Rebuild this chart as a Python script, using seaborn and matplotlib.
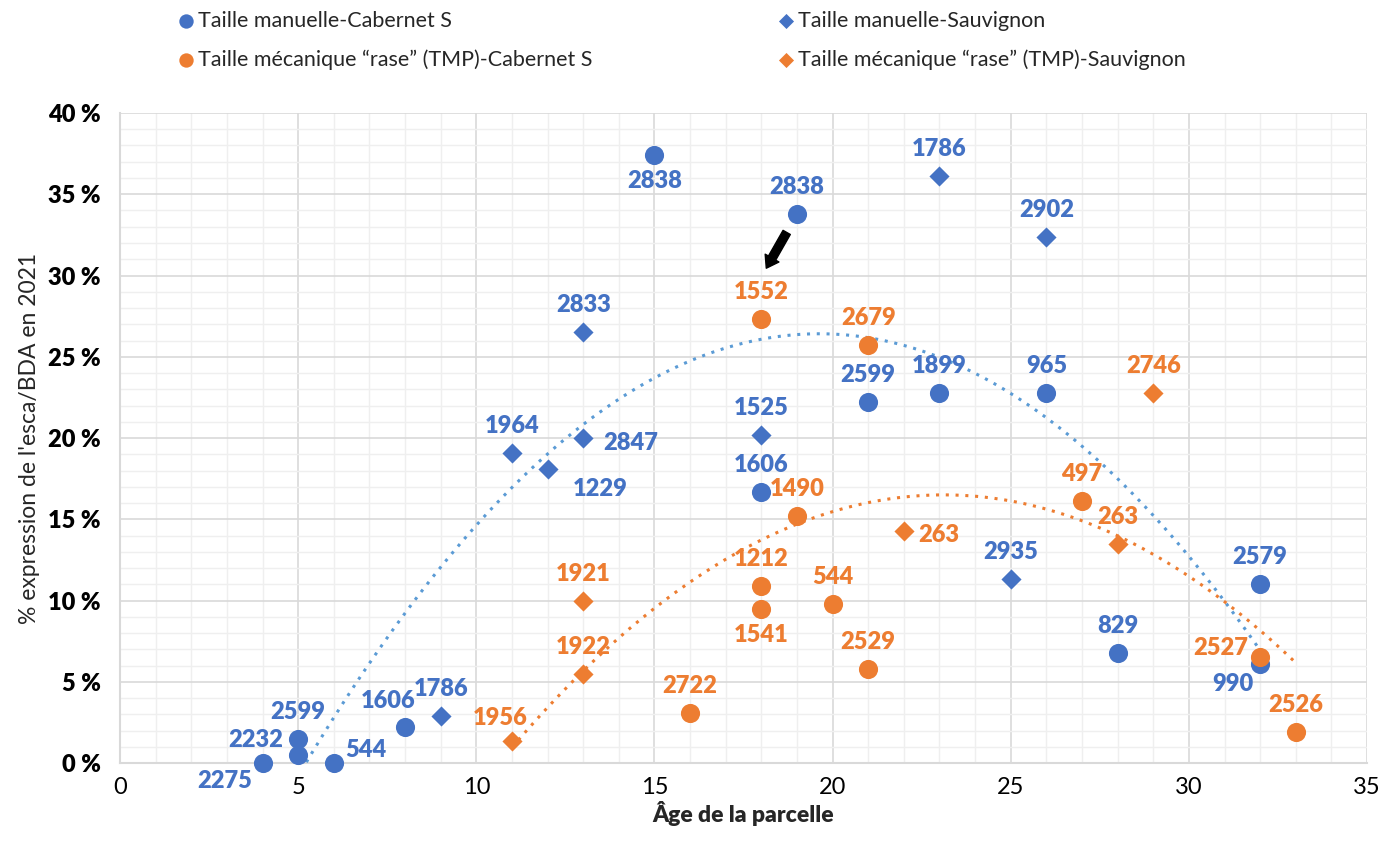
import numpy as np
import pandas as pd
import matplotlib
matplotlib.use("Agg")
import matplotlib.pyplot as plt
import seaborn as sns
from matplotlib.ticker import MultipleLocator, FuncFormatter

# data (x = age, y = % esca/BDA, label = parcel id)
man_cab_x = [4, 5, 5, 6, 8, 15, 19, 18, 21, 23, 26, 28, 32, 32]
man_cab_y = [0.0, 0.5, 1.5, 0.0, 2.2, 37.4, 33.8, 16.7, 22.2, 22.8, 22.8, 6.8, 11.0, 6.1]
man_cab_lab = ["2275", "2232", "2599", "544", "1606", "2838", "2838", "1606", "2599", "1899", "965", "829", "2579", "990"]

man_sau_x = [9, 11, 12, 13, 13, 18, 23, 26, 25]
man_sau_y = [2.9, 19.1, 18.1, 26.5, 20.0, 20.2, 36.1, 32.4, 11.3]
man_sau_lab = ["1786", "1964", "1229", "2833", "2847", "1525", "1786", "2902", "2935"]

mec_cab_x = [18, 21, 19, 18, 18, 20, 21, 16, 27, 32, 33]
mec_cab_y = [27.3, 25.7, 15.2, 10.9, 9.5, 9.8, 5.8, 3.1, 16.1, 6.5, 1.9]
mec_cab_lab = ["1552", "2679", "1490", "1212", "1541", "544", "2529", "2722", "497", "2527", "2526"]

mec_sau_x = [11, 13, 13, 22, 28, 29]
mec_sau_y = [1.35, 5.5, 10.0, 14.3, 13.5, 22.8]
mec_sau_lab = ["1956", "1922", "1921", "263", "263", "2746"]

# label placement (pixel offsets, alignment)
T = (0, 27, "center")
B = (0, -26, "center")
man_cab_pos = [(-10, -18, "right"), (-15, 15, "right"), T, (11, 13, "left"), (-17, 26, "center"),
               B, T, T, T, T, T, T, T, (-7, -20, "right")]
man_sau_pos = [T, T, (25, -20, "left"), T, (20, -5, "left"), T, T, T, T]
mec_cab_pos = [T, T, T, T, B, T, T, T, T, (-12, 9, "right"), T]
mec_sau_pos = [(-12, 23, "center"), T, T, (14, -4, "left"), T, T]

BLUE = "#4472C4"
ORANGE = "#ED7D31"

sns.set_theme(style="white")
plt.rcParams["font.family"] = ["Lato", "DejaVu Sans"]

fig = plt.figure(figsize=(13.81, 8.42), dpi=100)
ax = fig.add_axes([0.0869, 0.0938, 0.9030, 0.772])

series = [
    ("Taille manuelle-Cabernet S", man_cab_x, man_cab_y, man_cab_lab, man_cab_pos, BLUE, "o", 190),
    ("Taille mécanique “rase” (TMP)-Cabernet S", mec_cab_x, mec_cab_y, mec_cab_lab, mec_cab_pos, ORANGE, "o", 190),
    ("Taille manuelle-Sauvignon", man_sau_x, man_sau_y, man_sau_lab, man_sau_pos, BLUE, "D", 105),
    ("Taille mécanique “rase” (TMP)-Sauvignon", mec_sau_x, mec_sau_y, mec_sau_lab, mec_sau_pos, ORANGE, "D", 105),
]

for name, xs, ys, labs, pos, col, mk, size in series:
    df = pd.DataFrame({"x": xs, "y": ys})
    sns.scatterplot(data=df, x="x", y="y", ax=ax, color=col, marker=mk, s=size,
                    edgecolor=col, linewidth=0, label=name, clip_on=False, zorder=4)
    for x, y, lab, (dx, dy, ha) in zip(xs, ys, labs, pos):
        ax.annotate(lab, (x, y), xytext=(dx, dy), textcoords="offset pixels",
                    ha=ha, va="center", color=col, fontsize=17, fontweight="heavy", zorder=5)

# polynomial trendlines (order 2), blue and orange groups
for xs, ys, col in [(man_cab_x + man_sau_x, man_cab_y + man_sau_y, "#5B9BD5"),
                    (mec_cab_x + mec_sau_x, mec_cab_y + mec_sau_y, ORANGE)]:
    coef = np.polyfit(xs, ys, 2)
    xx = np.linspace(min(xs), max(xs), 200)
    ax.plot(xx, np.polyval(coef, xx), linestyle=(0, (1, 2.2)), color=col, linewidth=2.2, zorder=3)

# arrow pointing at 1552
ax.annotate("", xy=(18.1, 30.3), xytext=(18.75, 32.8),
            arrowprops=dict(arrowstyle="simple,head_length=0.7,head_width=0.95,tail_width=0.5",
                            color="black"), zorder=6)

ax.set_xlim(0, 35)
ax.set_ylim(0, 40)
ax.xaxis.set_major_locator(MultipleLocator(5))
ax.xaxis.set_minor_locator(MultipleLocator(1))
ax.yaxis.set_major_locator(MultipleLocator(5))
ax.yaxis.set_minor_locator(MultipleLocator(1))
ax.yaxis.set_major_formatter(FuncFormatter(lambda v, p: f"{v:.0f} %"))
ax.grid(which="major", color="#D9D9D9", linewidth=1.2)
ax.grid(which="minor", color="#EFEFEF", linewidth=1.0)
ax.set_axisbelow(True)
for s in ["top", "right"]:
    ax.spines[s].set_visible(False)
for s in ["left", "bottom"]:
    ax.spines[s].set_color("#D9D9D9")
    ax.spines[s].set_linewidth(1.5)
ax.tick_params(axis="both", which="both", length=0, labelsize=17, colors="black")
ax.tick_params(axis="x", pad=10)
ax.tick_params(axis="y", pad=14)
for t in ax.get_yticklabels():
    t.set_fontweight("heavy")
ax.set_xlabel("Âge de la parcelle", fontsize=16.5, fontweight="heavy", labelpad=2)
ax.set_ylabel("% expression de l'esca/BDA en 2021", fontsize=16.5, labelpad=6)

h, l = ax.get_legend_handles_labels()
ax.get_legend().remove()
fig.legend(h, l, loc="upper left", bbox_to_anchor=(0.105, 1.01), ncol=2, frameon=False,
           fontsize=15.5, handletextpad=-0.45, columnspacing=8.0, labelspacing=0.85, markerscale=0.75)

fig.savefig("out.png", dpi=100)
